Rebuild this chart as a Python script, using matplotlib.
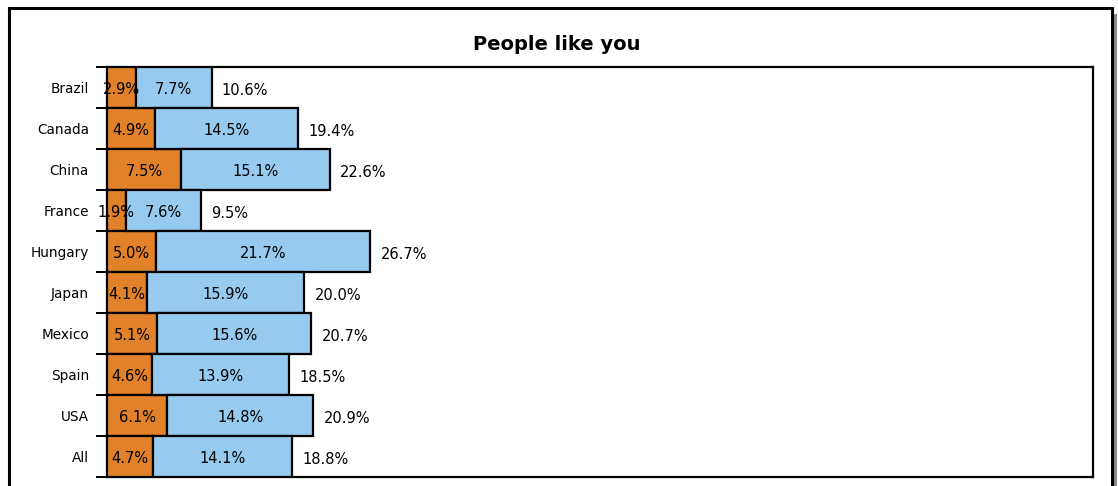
import matplotlib
matplotlib.use("Agg")
import matplotlib.pyplot as plt
from matplotlib.patches import Rectangle

countries = ["Brazil", "Canada", "China", "France", "Hungary",
             "Japan", "Mexico", "Spain", "USA", "All"]
strongly = [2.9, 4.9, 7.5, 1.9, 5.0, 4.1, 5.1, 4.6, 6.1, 4.7]
somewhat = [7.7, 14.5, 15.1, 7.6, 21.7, 15.9, 15.6, 13.9, 14.8, 14.1]
totals = [10.6, 19.4, 22.6, 9.5, 26.7, 20.0, 20.7, 18.5, 20.9, 18.8]

ORANGE = "#E1822A"
BLUE = "#96CBEF"

plt.rcParams["font.family"] = ["DejaVu Sans"]

W, H = 1118, 486
fig = plt.figure(figsize=(W / 100, H / 100), dpi=100)

# outer frame with a soft drop shadow on the right
fig.patches.append(Rectangle((1112 / W, -0.1), 5 / W, 1 - 14 / H + 0.1,
                             transform=fig.transFigure, facecolor="#8a8a8a",
                             edgecolor="none", zorder=0))
fig.patches.append(Rectangle((9 / W, -0.1), 1103 / W, 1 - 8 / H + 0.1,
                             transform=fig.transFigure, facecolor="white",
                             edgecolor="black", linewidth=2.2, zorder=1))

ax = fig.add_axes([107 / W, 1 - 477 / H, 986 / W, 410 / H])
ax.set_zorder(2)

y = list(range(len(countries)))
ax.barh(y, strongly, height=1.0, color=ORANGE, edgecolor="black",
        linewidth=1.6, zorder=3)
ax.barh(y, somewhat, left=strongly, height=1.0, color=BLUE,
        edgecolor="black", linewidth=1.6, zorder=3)

for yi, a, b, t in zip(y, strongly, somewhat, totals):
    ax.annotate(f"{a:.1f}%", xy=(a / 2, yi), xytext=(0, -1.5),
                textcoords="offset points", ha="center", va="center",
                fontsize=10.5, zorder=4)
    ax.annotate(f"{b:.1f}%", xy=(a + b / 2, yi), xytext=(0, -1.5),
                textcoords="offset points", ha="center", va="center",
                fontsize=10.5, zorder=4)
    ax.annotate(f"{t:.1f}%", xy=(a + b, yi), xytext=(7.5, -2),
                textcoords="offset points", ha="left", va="center",
                fontsize=10.5, zorder=4)

ax.set_xlim(0, 100)
ax.set_ylim(len(countries) - 0.5, -0.5)
ax.set_xticks([])
ax.set_yticks(y)
ax.set_yticklabels(countries, fontsize=9.8)
ax.tick_params(axis="y", which="major", length=0, pad=13)
ax.set_yticks([i - 0.5 for i in range(len(countries) + 1)], minor=True)
ax.tick_params(axis="y", which="minor", length=8, width=1.4, color="black")
for s in ax.spines.values():
    s.set_linewidth(1.6)
    s.set_color("black")

fig.text(557 / W, 1 - 45 / H, "People like you", ha="center", va="center",
         fontsize=14, fontweight="bold")

fig.savefig("out.png", dpi=100)
